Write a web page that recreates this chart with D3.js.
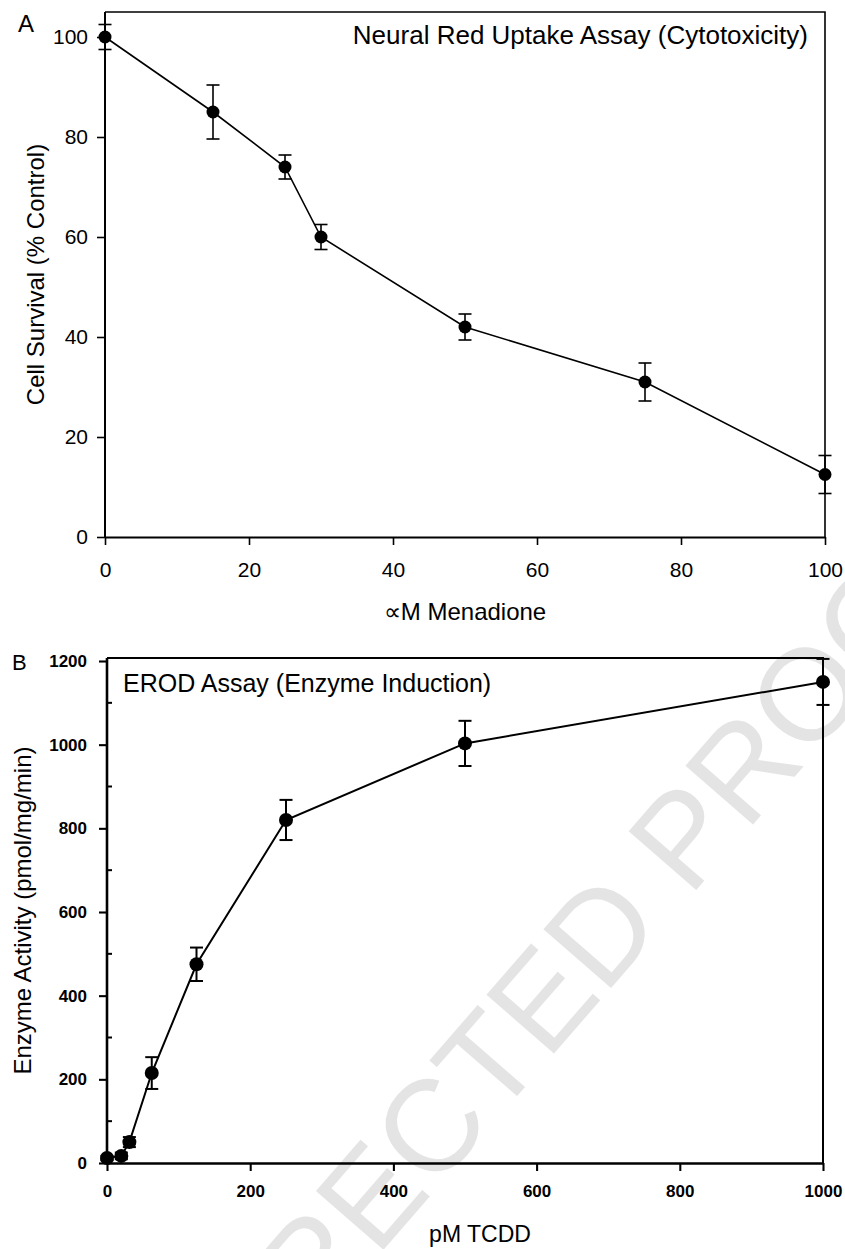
<!DOCTYPE html>
<html>
<head>
<meta charset="utf-8">
<script src="https://cdn.jsdelivr.net/npm/d3@7"></script>
<style>
body { margin: 0; background: #fff; }
svg text { font-family: "Liberation Sans", Arial, sans-serif; fill: #000; }
</style>
</head>
<body>
<div class="viz"></div>
<script>
// Panel A - neutral red uptake
const menadione = [0, 15, 25, 30, 50, 75, 100];
const survival = [100, 85, 74, 60, 42, 31, 12.5];
const survivalErr = [2.5, 5.4, 2.4, 2.5, 2.6, 3.8, 3.8];
const ticksAx = [0, 20, 40, 60, 80, 100];
const ticksAy = [0, 20, 40, 60, 80, 100];

// Panel B - EROD
const tcdd = [0, 20, 31.25, 62.5, 125, 250, 500, 1000];
const erod = [12, 17, 50, 215, 475, 820, 1003, 1150];
const erodErr = [5, 8, 12, 38, 40, 48, 54, 55];
const ticksBx = [0, 200, 400, 600, 800, 1000];
const ticksBy = [0, 200, 400, 600, 800, 1000, 1200];
const minorBy = [100, 300, 500, 700, 900, 1100];

const width = 845;
const height = 1249;

const svg = d3.select(".viz")
    .append("svg")
    .attr("width", width)
    .attr("height", height);

// watermark first so everything sits on top
svg.append("text")
    .attr("transform", "translate(462,1088) rotate(-49)")
    .attr("text-anchor", "middle")
    .attr("dy", "0.36em")
    .style("font-size", "130px")
    .style("fill", "#e4e4e4")
    .text("UNCORRECTED PROOF");

function styleAxis(g, w) {
    g.select(".domain").attr("stroke", "#000").attr("stroke-width", w);
    g.selectAll(".tick line").attr("stroke", "#000").attr("stroke-width", w * 0.8);
}

function drawSeries(xs, ys, es, x, y, r, lw) {
    const pts = xs.map((d, i) => ({ x: d, y: ys[i], e: es[i] }));
    const line = d3.line().x(d => x(d.x)).y(d => y(d.y));
    svg.append("path")
        .datum(pts)
        .attr("d", line)
        .attr("fill", "none")
        .attr("stroke", "#000")
        .attr("stroke-width", lw);

    const eb = svg.append("g").attr("stroke", "#000").attr("stroke-width", lw);
    pts.forEach(d => {
        const cx = x(d.x);
        eb.append("line").attr("x1", cx).attr("x2", cx)
            .attr("y1", y(d.y - d.e)).attr("y2", y(d.y + d.e));
        [d.y - d.e, d.y + d.e].forEach(v => {
            eb.append("line").attr("x1", cx - 6.5).attr("x2", cx + 6.5)
                .attr("y1", y(v)).attr("y2", y(v));
        });
    });

    svg.selectAll(null)
        .data(pts)
        .enter()
        .append("circle")
        .attr("cx", d => x(d.x))
        .attr("cy", d => y(d.y))
        .attr("r", r)
        .attr("fill", "#000");
}

// ---------- panel A ----------
const xA = d3.scaleLinear().domain([0, 100]).range([105, 825]);
const yA = d3.scaleLinear().domain([0, 100]).range([537, 37]);

// frame top + right
svg.append("path")
    .attr("d", `M${xA(0)},${yA(105)}H${xA(100)}V${yA(0)}`)
    .attr("fill", "none").attr("stroke", "#000").attr("stroke-width", 1.6);

const axAx = svg.append("g")
    .attr("transform", `translate(0,${yA(0)})`)
    .call(d3.axisBottom(xA).tickValues(ticksAx).tickSize(8).tickSizeOuter(0).tickPadding(17));
axAx.selectAll("text").style("font-size", "21px");
styleAxis(axAx, 2);

const axAy = svg.append("g")
    .attr("transform", `translate(${xA(0)},0)`)
    .call(d3.axisLeft(yA).tickValues(ticksAy).tickSize(8).tickSizeOuter(0).tickPadding(9));
axAy.selectAll("text").style("font-size", "21px");
styleAxis(axAy, 2);
axAy.select(".domain").attr("d", `M0,${yA(0)}V${yA(105)}`);

drawSeries(menadione, survival, survivalErr, xA, yA, 6.5, 1.6);

svg.append("text").attr("x", 18).attr("y", 32)
    .style("font-size", "24px").text("A");
svg.append("text").attr("x", 808).attr("y", 44)
    .attr("text-anchor", "end")
    .style("font-size", "26px")
    .text("Neural Red Uptake Assay (Cytotoxicity)");
svg.append("text")
    .attr("transform", `translate(44,${(yA(0) + yA(105)) / 2}) rotate(-90)`)
    .attr("text-anchor", "middle")
    .style("font-size", "24px")
    .text("Cell Survival (% Control)");
svg.append("text").attr("x", 465).attr("y", 620)
    .attr("text-anchor", "middle")
    .style("font-size", "24px")
    .text("\u221DM Menadione");

// ---------- panel B ----------
const xB = d3.scaleLinear().domain([0, 1000]).range([107, 823]);
const yB = d3.scaleLinear().domain([0, 1200]).range([1163, 661]);

svg.append("path")
    .attr("d", `M${xB(0)},${yB(1207)}H${xB(1000)}V${yB(0)}`)
    .attr("fill", "none").attr("stroke", "#000").attr("stroke-width", 2);

const axBx = svg.append("g")
    .attr("transform", `translate(0,${yB(0)})`)
    .call(d3.axisBottom(xB).tickValues(ticksBx).tickFormat(d3.format("d"))
        .tickSize(8).tickSizeOuter(0).tickPadding(14));
axBx.selectAll("text").style("font-size", "17px").style("font-weight", "bold");
styleAxis(axBx, 2.6);

const axBy = svg.append("g")
    .attr("transform", `translate(${xB(0)},0)`)
    .call(d3.axisLeft(yB).tickValues(ticksBy).tickFormat(d3.format("d"))
        .tickSize(8).tickSizeOuter(0).tickPadding(12));
axBy.selectAll("text").style("font-size", "17px").style("font-weight", "bold");
styleAxis(axBy, 2.6);
axBy.select(".domain").attr("d", `M0,${yB(0)}V${yB(1207)}`);

// minor ticks point inward
svg.append("g")
    .attr("transform", `translate(${xB(0)},0)`)
    .selectAll("line")
    .data(minorBy)
    .enter()
    .append("line")
    .attr("x1", 0).attr("x2", 5)
    .attr("y1", d => yB(d)).attr("y2", d => yB(d))
    .attr("stroke", "#000").attr("stroke-width", 2);

drawSeries(tcdd, erod, erodErr, xB, yB, 7, 2);

svg.append("text").attr("x", 12).attr("y", 670)
    .style("font-size", "22px").text("B");
svg.append("text").attr("x", 123).attr("y", 692)
    .style("font-size", "25px")
    .text("EROD Assay (Enzyme Induction)");
svg.append("text")
    .attr("transform", `translate(31,${(yB(0) + yB(1207)) / 2}) rotate(-90)`)
    .attr("text-anchor", "middle")
    .style("font-size", "24px")
    .text("Enzyme Activity (pmol/mg/min)");
svg.append("text").attr("x", 480).attr("y", 1242)
    .attr("text-anchor", "middle")
    .style("font-size", "23px")
    .text("pM TCDD");
</script>
</body>
</html>
